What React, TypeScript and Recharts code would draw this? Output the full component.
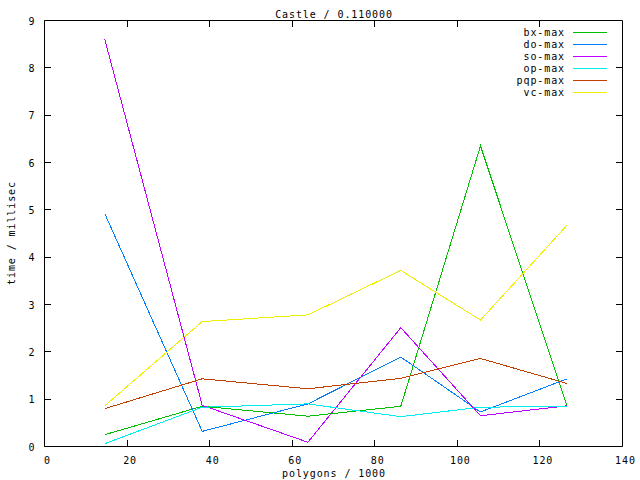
import { LineChart, Line, XAxis, YAxis, ReferenceArea } from "recharts";

// polygons / 1000 for each measured model size
const polygons = [14.6, 38.2, 63.8, 86.3, 105.6, 126.6];

const bxMax = [0.25, 0.85, 0.64, 0.85, 6.35, 0.85];
const doMax = [4.92, 0.32, 0.9, 1.89, 0.73, 1.43];
const soMax = [8.6, 0.87, 0.09, 2.51, 0.65, 0.86];
const opMax = [0.06, 0.83, 0.9, 0.63, 0.83, 0.85];
const pqpMax = [0.8, 1.43, 1.22, 1.44, 1.86, 1.33];
const vcMax = [0.86, 2.64, 2.78, 3.72, 2.67, 4.68];

const xTicks = [0, 20, 40, 60, 80, 100, 120, 140];
const yTicks = [0, 1, 2, 3, 4, 5, 6, 7, 8, 9];

const series = [
  { key: "bx-max", values: bxMax, color: "#00c000" },
  { key: "do-max", values: doMax, color: "#0080ff" },
  { key: "so-max", values: soMax, color: "#c000ff" },
  { key: "op-max", values: opMax, color: "#00eeee" },
  { key: "pqp-max", values: pqpMax, color: "#c04000" },
  { key: "vc-max", values: vcMax, color: "#eeee00" },
];

const data = polygons.map((p, i) => {
  const row: Record<string, number> = { x: p };
  series.forEach((s) => {
    row[s.key] = s.values[i];
  });
  return row;
});

const FONT = "'DejaVu Sans Mono', monospace";
const FS = 10;
const LS = 0.9;
const TICK = 6;
const MARGIN = 8;
const M = { top: 20.5, right: 17.5, bottom: 0, left: 0.5 };
const PLOT_TOP = M.top;
const PLOT_RIGHT = 640 - M.right;

// gnuplot style: tick marks point into the plot on all four sides (mirrored)
function BottomTick(props: any) {
  const { x, y, payload } = props;
  const axisY = Math.floor(Number(y) - MARGIN);
  const cx = Math.floor(Number(x));
  return (
    <g>
      <rect x={cx} y={axisY - TICK} width={1} height={TICK} fill="#000" />
      <rect x={cx} y={Math.ceil(PLOT_TOP)} width={1} height={TICK} fill="#000" />
      <text x={Number(x) + 3} y={Number(y) + 9} textAnchor="middle" fontFamily={FONT} fontSize={FS} letterSpacing={LS} fill="#000">
        {payload.value}
      </text>
    </g>
  );
}

function LeftTick(props: any) {
  const { x, y, payload } = props;
  const axisX = Math.ceil(Number(x) + MARGIN);
  const cy = Math.floor(Number(y));
  return (
    <g>
      <rect x={axisX} y={cy} width={TICK} height={1} fill="#000" />
      <rect x={Math.floor(PLOT_RIGHT) - TICK} y={cy} width={TICK} height={1} fill="#000" />
      <text x={Number(x) - 1} y={Number(y) + 4} textAnchor="end" fontFamily={FONT} fontSize={FS} letterSpacing={LS} fill="#000">
        {payload.value}
      </text>
    </g>
  );
}

export default function App() {
  return (
    <div
      style={{
        position: "absolute",
        left: 0,
        top: 0,
        width: 640,
        height: 480,
        background: "#fff",
      }}
    >
      <LineChart width={640} height={480} data={data} margin={M}>
        <XAxis
          dataKey="x"
          type="number"
          domain={[0, 140]}
          ticks={xTicks}
          height={33.5}
          stroke="#000"
          tickLine={false}
          tickSize={0}
          tickMargin={MARGIN}
          tick={BottomTick}
          interval={0}
        />
        <YAxis
          type="number"
          domain={[0, 9]}
          ticks={yTicks}
          width={44}
          stroke="#000"
          tickLine={false}
          tickSize={0}
          tickMargin={MARGIN}
          tick={LeftTick}
          interval={0}
        />
        {/* plot border */}
        <ReferenceArea
          x1={0}
          x2={140}
          y1={0}
          y2={9}
          fill="none"
          fillOpacity={0}
          stroke="#000"
          strokeWidth={1}
          strokeOpacity={1}
        />
        {series.map((s) => (
          <Line
            key={s.key}
            dataKey={s.key}
            stroke={s.color}
            strokeWidth={1}
            dot={false}
            activeDot={false}
            isAnimationActive={false}
            shapeRendering="crispEdges"
          />
        ))}
      </LineChart>

      <svg
        width={640}
        height={480}
        style={{ position: "absolute", left: 0, top: 0, pointerEvents: "none" }}
        fontFamily={FONT}
        fontSize={FS}
        letterSpacing={LS}
      >
        <text x={334} y={18} textAnchor="middle">
          Castle / 0.110000
        </text>
        <text x={334} y={477} textAnchor="middle">
          polygons / 1000
        </text>
        <text x={15} y={233} textAnchor="middle" transform="rotate(-90 15 233)">
          time / millisec
        </text>
        {/* Legend */}
        {series.map((s, i) => (
          <g key={s.key}>
            <text x={565} y={36 + i * 12} textAnchor="end">
              {s.key}
            </text>
            <line
              x1={573}
              x2={607}
              y1={32.5 + i * 12}
              y2={32.5 + i * 12}
              stroke={s.color}
              strokeWidth={1}
            />
          </g>
        ))}
      </svg>
    </div>
  );
}
